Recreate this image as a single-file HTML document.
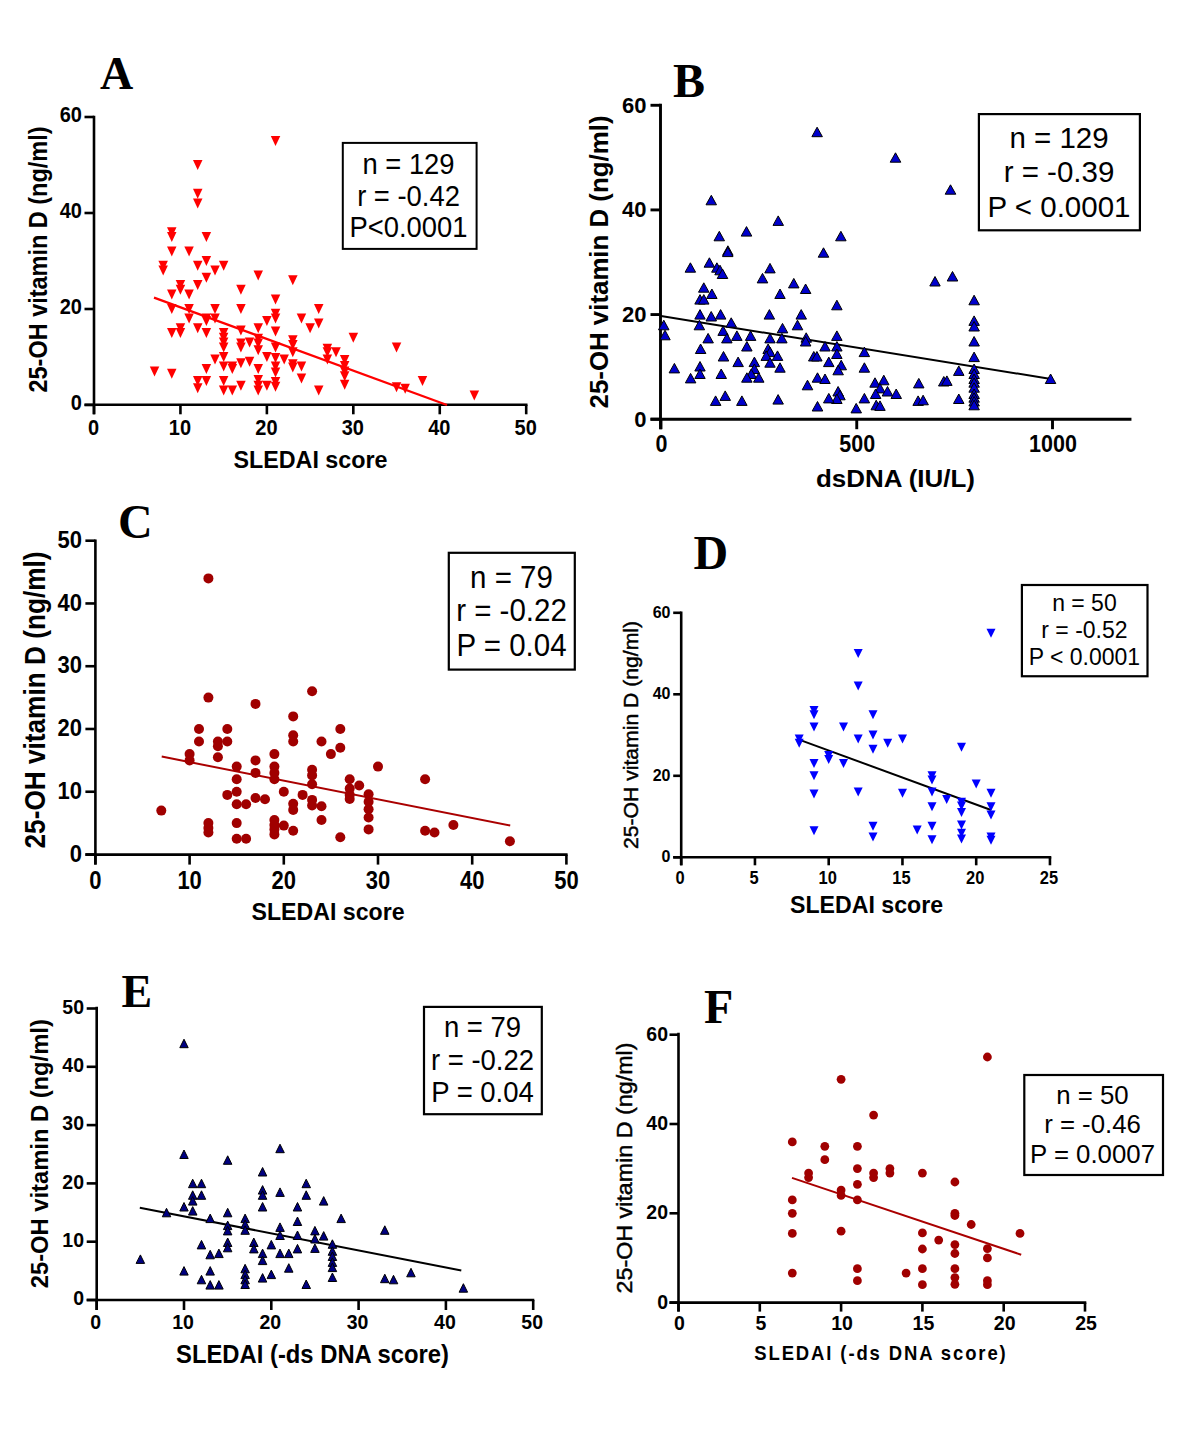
<!DOCTYPE html>
<html><head><meta charset="utf-8"><style>
html,body{margin:0;padding:0;background:#fff;width:1200px;height:1447px;overflow:hidden}
svg{display:block}
</style></head><body>
<svg width="1200" height="1447" viewBox="0 0 1200 1447">
<rect width="1200" height="1447" fill="#fff"/>
<line x1="94" y1="115.7" x2="94" y2="414.3" stroke="#000" stroke-width="2.6"/>
<line x1="84.5" y1="404.8" x2="527.5" y2="404.8" stroke="#000" stroke-width="2.6"/>
<line x1="84.5" y1="405.0" x2="94" y2="405.0" stroke="#000" stroke-width="2.6"/>
<line x1="84.5" y1="309.0" x2="94" y2="309.0" stroke="#000" stroke-width="2.6"/>
<line x1="84.5" y1="213.0" x2="94" y2="213.0" stroke="#000" stroke-width="2.6"/>
<line x1="84.5" y1="117.0" x2="94" y2="117.0" stroke="#000" stroke-width="2.6"/>
<line x1="94.0" y1="404.8" x2="94.0" y2="414.3" stroke="#000" stroke-width="2.6"/>
<line x1="180.44" y1="404.8" x2="180.44" y2="414.3" stroke="#000" stroke-width="2.6"/>
<line x1="266.88" y1="404.8" x2="266.88" y2="414.3" stroke="#000" stroke-width="2.6"/>
<line x1="353.32" y1="404.8" x2="353.32" y2="414.3" stroke="#000" stroke-width="2.6"/>
<line x1="439.76" y1="404.8" x2="439.76" y2="414.3" stroke="#000" stroke-width="2.6"/>
<line x1="526.2" y1="404.8" x2="526.2" y2="414.3" stroke="#000" stroke-width="2.6"/>
<text transform="translate(82,410.3) scale(1,1.06)" text-anchor="end" font-family='"Liberation Sans", sans-serif' font-size="20" font-weight="bold" fill="#000">0</text>
<text transform="translate(82,314.3) scale(1,1.06)" text-anchor="end" font-family='"Liberation Sans", sans-serif' font-size="20" font-weight="bold" fill="#000">20</text>
<text transform="translate(82,218.3) scale(1,1.06)" text-anchor="end" font-family='"Liberation Sans", sans-serif' font-size="20" font-weight="bold" fill="#000">40</text>
<text transform="translate(82,122.3) scale(1,1.06)" text-anchor="end" font-family='"Liberation Sans", sans-serif' font-size="20" font-weight="bold" fill="#000">60</text>
<text transform="translate(93.5,434.6) scale(1,1.1)" text-anchor="middle" font-family='"Liberation Sans", sans-serif' font-size="20" font-weight="bold" fill="#000">0</text>
<text transform="translate(179.9,434.6) scale(1,1.1)" text-anchor="middle" font-family='"Liberation Sans", sans-serif' font-size="20" font-weight="bold" fill="#000">10</text>
<text transform="translate(266.4,434.6) scale(1,1.1)" text-anchor="middle" font-family='"Liberation Sans", sans-serif' font-size="20" font-weight="bold" fill="#000">20</text>
<text transform="translate(352.8,434.6) scale(1,1.1)" text-anchor="middle" font-family='"Liberation Sans", sans-serif' font-size="20" font-weight="bold" fill="#000">30</text>
<text transform="translate(439.3,434.6) scale(1,1.1)" text-anchor="middle" font-family='"Liberation Sans", sans-serif' font-size="20" font-weight="bold" fill="#000">40</text>
<text transform="translate(525.7,434.6) scale(1,1.1)" text-anchor="middle" font-family='"Liberation Sans", sans-serif' font-size="20" font-weight="bold" fill="#000">50</text>
<text transform="translate(310.5,467.7) scale(1,1.045)" text-anchor="middle" font-family='"Liberation Sans", sans-serif' font-size="22.5" font-weight="bold" fill="#000" textLength="154" lengthAdjust="spacingAndGlyphs">SLEDAI score</text>
<text transform="translate(46.5,259.5) rotate(-90) scale(1,1.17)" text-anchor="middle" font-family='"Liberation Sans", sans-serif' font-size="22.5" font-weight="bold" fill="#000" textLength="266" lengthAdjust="spacingAndGlyphs">25-OH vitamin D (ng/ml)</text>
<text transform="translate(100,88.5)" text-anchor="start" font-family='"Liberation Serif", serif' font-size="46" font-weight="bold" fill="#000">A</text>
<rect x="342.8" y="142.9" width="133.8" height="106.0" fill="none" stroke="#000" stroke-width="2"/>
<text transform="translate(408.5,173.5) scale(1,1.09)" text-anchor="middle" font-family='"Liberation Sans", sans-serif' font-size="27.4" font-weight="normal" fill="#000">n = 129</text>
<text transform="translate(408.5,205.8) scale(1,1.09)" text-anchor="middle" font-family='"Liberation Sans", sans-serif' font-size="27.4" font-weight="normal" fill="#000">r = -0.42</text>
<text transform="translate(408.5,237) scale(1,1.09)" text-anchor="middle" font-family='"Liberation Sans", sans-serif' font-size="27.4" font-weight="normal" fill="#000">P&lt;0.0001</text>
<line x1="154" y1="297.6" x2="447" y2="405" stroke="#ff0000" stroke-width="2.2"/>
<path d="M149.8,366.4H159.3L154.5,376.4Z" fill="#ff0000" stroke="none" stroke-width="0"/>
<path d="M158.4,260.8H167.9L163.2,270.8Z" fill="#ff0000" stroke="none" stroke-width="0"/>
<path d="M158.4,265.6H167.9L163.2,275.6Z" fill="#ff0000" stroke="none" stroke-width="0"/>
<path d="M167.0,227.2H176.5L171.8,237.2Z" fill="#ff0000" stroke="none" stroke-width="0"/>
<path d="M167.0,232.0H176.5L171.8,242.0Z" fill="#ff0000" stroke="none" stroke-width="0"/>
<path d="M167.0,246.4H176.5L171.8,256.4Z" fill="#ff0000" stroke="none" stroke-width="0"/>
<path d="M167.0,289.6H176.5L171.8,299.6Z" fill="#ff0000" stroke="none" stroke-width="0"/>
<path d="M167.0,304.0H176.5L171.8,314.0Z" fill="#ff0000" stroke="none" stroke-width="0"/>
<path d="M167.0,328.0H176.5L171.8,338.0Z" fill="#ff0000" stroke="none" stroke-width="0"/>
<path d="M167.0,368.8H176.5L171.8,378.8Z" fill="#ff0000" stroke="none" stroke-width="0"/>
<path d="M175.7,280.0H185.2L180.4,290.0Z" fill="#ff0000" stroke="none" stroke-width="0"/>
<path d="M175.7,284.8H185.2L180.4,294.8Z" fill="#ff0000" stroke="none" stroke-width="0"/>
<path d="M175.7,323.2H185.2L180.4,333.2Z" fill="#ff0000" stroke="none" stroke-width="0"/>
<path d="M175.7,328.0H185.2L180.4,338.0Z" fill="#ff0000" stroke="none" stroke-width="0"/>
<path d="M184.3,246.4H193.8L189.1,256.4Z" fill="#ff0000" stroke="none" stroke-width="0"/>
<path d="M184.3,289.6H193.8L189.1,299.6Z" fill="#ff0000" stroke="none" stroke-width="0"/>
<path d="M184.3,304.0H193.8L189.1,314.0Z" fill="#ff0000" stroke="none" stroke-width="0"/>
<path d="M184.3,313.6H193.8L189.1,323.6Z" fill="#ff0000" stroke="none" stroke-width="0"/>
<path d="M193.0,160.0H202.5L197.7,170.0Z" fill="#ff0000" stroke="none" stroke-width="0"/>
<path d="M193.0,188.8H202.5L197.7,198.8Z" fill="#ff0000" stroke="none" stroke-width="0"/>
<path d="M193.0,198.4H202.5L197.7,208.4Z" fill="#ff0000" stroke="none" stroke-width="0"/>
<path d="M193.0,260.8H202.5L197.7,270.8Z" fill="#ff0000" stroke="none" stroke-width="0"/>
<path d="M193.0,280.0H202.5L197.7,290.0Z" fill="#ff0000" stroke="none" stroke-width="0"/>
<path d="M193.0,323.2H202.5L197.7,333.2Z" fill="#ff0000" stroke="none" stroke-width="0"/>
<path d="M193.0,376.0H202.5L197.7,386.0Z" fill="#ff0000" stroke="none" stroke-width="0"/>
<path d="M193.0,383.2H202.5L197.7,393.2Z" fill="#ff0000" stroke="none" stroke-width="0"/>
<path d="M201.6,232.0H211.1L206.4,242.0Z" fill="#ff0000" stroke="none" stroke-width="0"/>
<path d="M201.6,256.0H211.1L206.4,266.0Z" fill="#ff0000" stroke="none" stroke-width="0"/>
<path d="M201.6,272.8H211.1L206.4,282.8Z" fill="#ff0000" stroke="none" stroke-width="0"/>
<path d="M201.6,313.6H211.1L206.4,323.6Z" fill="#ff0000" stroke="none" stroke-width="0"/>
<path d="M201.6,316.0H211.1L206.4,326.0Z" fill="#ff0000" stroke="none" stroke-width="0"/>
<path d="M201.6,328.0H211.1L206.4,338.0Z" fill="#ff0000" stroke="none" stroke-width="0"/>
<path d="M201.6,364.0H211.1L206.4,374.0Z" fill="#ff0000" stroke="none" stroke-width="0"/>
<path d="M201.6,376.0H211.1L206.4,386.0Z" fill="#ff0000" stroke="none" stroke-width="0"/>
<path d="M210.3,265.6H219.8L215.0,275.6Z" fill="#ff0000" stroke="none" stroke-width="0"/>
<path d="M210.3,304.0H219.8L215.0,314.0Z" fill="#ff0000" stroke="none" stroke-width="0"/>
<path d="M210.3,313.6H219.8L215.0,323.6Z" fill="#ff0000" stroke="none" stroke-width="0"/>
<path d="M210.3,354.4H219.8L215.0,364.4Z" fill="#ff0000" stroke="none" stroke-width="0"/>
<path d="M218.9,260.8H228.4L223.7,270.8Z" fill="#ff0000" stroke="none" stroke-width="0"/>
<path d="M218.9,328.0H228.4L223.7,338.0Z" fill="#ff0000" stroke="none" stroke-width="0"/>
<path d="M218.9,332.8H228.4L223.7,342.8Z" fill="#ff0000" stroke="none" stroke-width="0"/>
<path d="M218.9,337.6H228.4L223.7,347.6Z" fill="#ff0000" stroke="none" stroke-width="0"/>
<path d="M218.9,342.4H228.4L223.7,352.4Z" fill="#ff0000" stroke="none" stroke-width="0"/>
<path d="M218.9,352.0H228.4L223.7,362.0Z" fill="#ff0000" stroke="none" stroke-width="0"/>
<path d="M218.9,361.6H228.4L223.7,371.6Z" fill="#ff0000" stroke="none" stroke-width="0"/>
<path d="M218.9,376.0H228.4L223.7,386.0Z" fill="#ff0000" stroke="none" stroke-width="0"/>
<path d="M218.9,385.6H228.4L223.7,395.6Z" fill="#ff0000" stroke="none" stroke-width="0"/>
<path d="M227.6,361.6H237.1L232.3,371.6Z" fill="#ff0000" stroke="none" stroke-width="0"/>
<path d="M227.6,364.0H237.1L232.3,374.0Z" fill="#ff0000" stroke="none" stroke-width="0"/>
<path d="M227.6,385.6H237.1L232.3,395.6Z" fill="#ff0000" stroke="none" stroke-width="0"/>
<path d="M236.2,284.8H245.7L240.9,294.8Z" fill="#ff0000" stroke="none" stroke-width="0"/>
<path d="M236.2,304.0H245.7L240.9,314.0Z" fill="#ff0000" stroke="none" stroke-width="0"/>
<path d="M236.2,325.6H245.7L240.9,335.6Z" fill="#ff0000" stroke="none" stroke-width="0"/>
<path d="M236.2,338.6H245.7L240.9,348.6Z" fill="#ff0000" stroke="none" stroke-width="0"/>
<path d="M236.2,342.4H245.7L240.9,352.4Z" fill="#ff0000" stroke="none" stroke-width="0"/>
<path d="M236.2,358.2H245.7L240.9,368.2Z" fill="#ff0000" stroke="none" stroke-width="0"/>
<path d="M236.2,380.8H245.7L240.9,390.8Z" fill="#ff0000" stroke="none" stroke-width="0"/>
<path d="M244.8,337.6H254.3L249.6,347.6Z" fill="#ff0000" stroke="none" stroke-width="0"/>
<path d="M244.8,356.8H254.3L249.6,366.8Z" fill="#ff0000" stroke="none" stroke-width="0"/>
<path d="M253.5,270.4H263.0L258.2,280.4Z" fill="#ff0000" stroke="none" stroke-width="0"/>
<path d="M253.5,323.2H263.0L258.2,333.2Z" fill="#ff0000" stroke="none" stroke-width="0"/>
<path d="M253.5,333.8H263.0L258.2,343.8Z" fill="#ff0000" stroke="none" stroke-width="0"/>
<path d="M253.5,338.6H263.0L258.2,348.6Z" fill="#ff0000" stroke="none" stroke-width="0"/>
<path d="M253.5,345.3H263.0L258.2,355.3Z" fill="#ff0000" stroke="none" stroke-width="0"/>
<path d="M253.5,364.0H263.0L258.2,374.0Z" fill="#ff0000" stroke="none" stroke-width="0"/>
<path d="M253.5,375.0H263.0L258.2,385.0Z" fill="#ff0000" stroke="none" stroke-width="0"/>
<path d="M253.5,380.8H263.0L258.2,390.8Z" fill="#ff0000" stroke="none" stroke-width="0"/>
<path d="M253.5,385.6H263.0L258.2,395.6Z" fill="#ff0000" stroke="none" stroke-width="0"/>
<path d="M262.1,316.0H271.6L266.9,326.0Z" fill="#ff0000" stroke="none" stroke-width="0"/>
<path d="M262.1,352.0H271.6L266.9,362.0Z" fill="#ff0000" stroke="none" stroke-width="0"/>
<path d="M262.1,380.8H271.6L266.9,390.8Z" fill="#ff0000" stroke="none" stroke-width="0"/>
<path d="M270.8,136.0H280.3L275.5,146.0Z" fill="#ff0000" stroke="none" stroke-width="0"/>
<path d="M270.8,294.4H280.3L275.5,304.4Z" fill="#ff0000" stroke="none" stroke-width="0"/>
<path d="M270.8,308.8H280.3L275.5,318.8Z" fill="#ff0000" stroke="none" stroke-width="0"/>
<path d="M270.8,313.6H280.3L275.5,323.6Z" fill="#ff0000" stroke="none" stroke-width="0"/>
<path d="M270.8,326.6H280.3L275.5,336.6Z" fill="#ff0000" stroke="none" stroke-width="0"/>
<path d="M270.8,342.4H280.3L275.5,352.4Z" fill="#ff0000" stroke="none" stroke-width="0"/>
<path d="M270.8,353.0H280.3L275.5,363.0Z" fill="#ff0000" stroke="none" stroke-width="0"/>
<path d="M270.8,361.6H280.3L275.5,371.6Z" fill="#ff0000" stroke="none" stroke-width="0"/>
<path d="M270.8,367.4H280.3L275.5,377.4Z" fill="#ff0000" stroke="none" stroke-width="0"/>
<path d="M270.8,377.0H280.3L275.5,387.0Z" fill="#ff0000" stroke="none" stroke-width="0"/>
<path d="M270.8,381.8H280.3L275.5,391.8Z" fill="#ff0000" stroke="none" stroke-width="0"/>
<path d="M279.4,354.4H288.9L284.2,364.4Z" fill="#ff0000" stroke="none" stroke-width="0"/>
<path d="M288.1,275.2H297.6L292.8,285.2Z" fill="#ff0000" stroke="none" stroke-width="0"/>
<path d="M288.1,335.2H297.6L292.8,345.2Z" fill="#ff0000" stroke="none" stroke-width="0"/>
<path d="M288.1,340.0H297.6L292.8,350.0Z" fill="#ff0000" stroke="none" stroke-width="0"/>
<path d="M288.1,347.2H297.6L292.8,357.2Z" fill="#ff0000" stroke="none" stroke-width="0"/>
<path d="M288.1,359.2H297.6L292.8,369.2Z" fill="#ff0000" stroke="none" stroke-width="0"/>
<path d="M288.1,362.6H297.6L292.8,372.6Z" fill="#ff0000" stroke="none" stroke-width="0"/>
<path d="M296.7,313.6H306.2L301.5,323.6Z" fill="#ff0000" stroke="none" stroke-width="0"/>
<path d="M296.7,361.6H306.2L301.5,371.6Z" fill="#ff0000" stroke="none" stroke-width="0"/>
<path d="M296.7,373.6H306.2L301.5,383.6Z" fill="#ff0000" stroke="none" stroke-width="0"/>
<path d="M305.4,323.2H314.9L310.1,333.2Z" fill="#ff0000" stroke="none" stroke-width="0"/>
<path d="M314.0,304.0H323.5L318.7,314.0Z" fill="#ff0000" stroke="none" stroke-width="0"/>
<path d="M314.0,318.4H323.5L318.7,328.4Z" fill="#ff0000" stroke="none" stroke-width="0"/>
<path d="M314.0,385.6H323.5L318.7,395.6Z" fill="#ff0000" stroke="none" stroke-width="0"/>
<path d="M322.6,343.8H332.1L327.4,353.8Z" fill="#ff0000" stroke="none" stroke-width="0"/>
<path d="M322.6,347.2H332.1L327.4,357.2Z" fill="#ff0000" stroke="none" stroke-width="0"/>
<path d="M322.6,354.4H332.1L327.4,364.4Z" fill="#ff0000" stroke="none" stroke-width="0"/>
<path d="M331.3,347.2H340.8L336.0,357.2Z" fill="#ff0000" stroke="none" stroke-width="0"/>
<path d="M339.9,354.9H349.4L344.7,364.9Z" fill="#ff0000" stroke="none" stroke-width="0"/>
<path d="M339.9,361.1H349.4L344.7,371.1Z" fill="#ff0000" stroke="none" stroke-width="0"/>
<path d="M339.9,366.4H349.4L344.7,376.4Z" fill="#ff0000" stroke="none" stroke-width="0"/>
<path d="M339.9,371.2H349.4L344.7,381.2Z" fill="#ff0000" stroke="none" stroke-width="0"/>
<path d="M339.9,379.8H349.4L344.7,389.8Z" fill="#ff0000" stroke="none" stroke-width="0"/>
<path d="M348.6,332.8H358.1L353.3,342.8Z" fill="#ff0000" stroke="none" stroke-width="0"/>
<path d="M391.8,342.4H401.3L396.5,352.4Z" fill="#ff0000" stroke="none" stroke-width="0"/>
<path d="M391.8,382.2H401.3L396.5,392.2Z" fill="#ff0000" stroke="none" stroke-width="0"/>
<path d="M400.4,383.7H409.9L405.2,393.7Z" fill="#ff0000" stroke="none" stroke-width="0"/>
<path d="M417.7,376.0H427.2L422.5,386.0Z" fill="#ff0000" stroke="none" stroke-width="0"/>
<path d="M469.6,390.4H479.1L474.3,400.4Z" fill="#ff0000" stroke="none" stroke-width="0"/>
<line x1="660.5" y1="103.85" x2="660.5" y2="429.2" stroke="#000" stroke-width="2.9"/>
<line x1="650.5" y1="419.2" x2="1131.45" y2="419.2" stroke="#000" stroke-width="2.9"/>
<line x1="650.5" y1="419.2" x2="660.5" y2="419.2" stroke="#000" stroke-width="2.9"/>
<line x1="650.5" y1="314.56" x2="660.5" y2="314.56" stroke="#000" stroke-width="2.9"/>
<line x1="650.5" y1="209.92" x2="660.5" y2="209.92" stroke="#000" stroke-width="2.9"/>
<line x1="650.5" y1="105.27999999999997" x2="660.5" y2="105.27999999999997" stroke="#000" stroke-width="2.9"/>
<line x1="661.0" y1="419.2" x2="661.0" y2="429.2" stroke="#000" stroke-width="2.9"/>
<line x1="856.75" y1="419.2" x2="856.75" y2="429.2" stroke="#000" stroke-width="2.9"/>
<line x1="1052.5" y1="419.2" x2="1052.5" y2="429.2" stroke="#000" stroke-width="2.9"/>
<text transform="translate(646.5,426.5)" text-anchor="end" font-family='"Liberation Sans", sans-serif' font-size="22" font-weight="bold" fill="#000">0</text>
<text transform="translate(646.5,321.9)" text-anchor="end" font-family='"Liberation Sans", sans-serif' font-size="22" font-weight="bold" fill="#000">20</text>
<text transform="translate(646.5,217.2)" text-anchor="end" font-family='"Liberation Sans", sans-serif' font-size="22" font-weight="bold" fill="#000">40</text>
<text transform="translate(646.5,112.6)" text-anchor="end" font-family='"Liberation Sans", sans-serif' font-size="22" font-weight="bold" fill="#000">60</text>
<text transform="translate(661.5,452.3) scale(1,1.08)" text-anchor="middle" font-family='"Liberation Sans", sans-serif' font-size="21.5" font-weight="bold" fill="#000">0</text>
<text transform="translate(857.2,452.3) scale(1,1.08)" text-anchor="middle" font-family='"Liberation Sans", sans-serif' font-size="21.5" font-weight="bold" fill="#000">500</text>
<text transform="translate(1053.0,452.3) scale(1,1.08)" text-anchor="middle" font-family='"Liberation Sans", sans-serif' font-size="21.5" font-weight="bold" fill="#000">1000</text>
<text transform="translate(895.5,487)" text-anchor="middle" font-family='"Liberation Sans", sans-serif' font-size="23" font-weight="bold" fill="#000" textLength="159" lengthAdjust="spacingAndGlyphs">dsDNA (IU/L)</text>
<text transform="translate(607.5,262) rotate(-90) scale(1,1.1)" text-anchor="middle" font-family='"Liberation Sans", sans-serif' font-size="24" font-weight="bold" fill="#000" textLength="293" lengthAdjust="spacingAndGlyphs">25-OH vitamin D (ng/ml)</text>
<text transform="translate(673,96.6)" text-anchor="start" font-family='"Liberation Serif", serif' font-size="48" font-weight="bold" fill="#000">B</text>
<rect x="978.9" y="114.1" width="161.0000000000001" height="116.20000000000002" fill="none" stroke="#000" stroke-width="2.2"/>
<text transform="translate(1059,148) scale(1,1.03)" text-anchor="middle" font-family='"Liberation Sans", sans-serif' font-size="29.5" font-weight="normal" fill="#000">n = 129</text>
<text transform="translate(1059,182) scale(1,1.03)" text-anchor="middle" font-family='"Liberation Sans", sans-serif' font-size="29.5" font-weight="normal" fill="#000">r = -0.39</text>
<text transform="translate(1059,217) scale(1,1.03)" text-anchor="middle" font-family='"Liberation Sans", sans-serif' font-size="29.5" font-weight="normal" fill="#000">P &lt; 0.0001</text>
<line x1="661" y1="316" x2="1051" y2="379" stroke="#000" stroke-width="2"/>
<path d="M722.6,255.3H733.1L727.9,245.8Z" fill="#0000cc" stroke="#000" stroke-width="1"/>
<path d="M685.1,272.2H695.6L690.4,262.8Z" fill="#0000cc" stroke="#000" stroke-width="1"/>
<path d="M704.1,267.2H714.6L709.4,257.8Z" fill="#0000cc" stroke="#000" stroke-width="1"/>
<path d="M711.6,272.2H722.1L716.9,262.8Z" fill="#0000cc" stroke="#000" stroke-width="1"/>
<path d="M714.8,274.8H725.2L720.0,265.2Z" fill="#0000cc" stroke="#000" stroke-width="1"/>
<path d="M717.2,278.5H727.8L722.5,269.0Z" fill="#0000cc" stroke="#000" stroke-width="1"/>
<path d="M764.8,272.9H775.2L770.0,263.4Z" fill="#0000cc" stroke="#000" stroke-width="1"/>
<path d="M757.2,282.9H767.8L762.5,273.4Z" fill="#0000cc" stroke="#000" stroke-width="1"/>
<path d="M788.5,287.9H799.0L793.8,278.4Z" fill="#0000cc" stroke="#000" stroke-width="1"/>
<path d="M774.8,298.5H785.2L780.0,289.0Z" fill="#0000cc" stroke="#000" stroke-width="1"/>
<path d="M698.5,292.2H709.0L703.8,282.8Z" fill="#0000cc" stroke="#000" stroke-width="1"/>
<path d="M706.6,298.5H717.1L711.9,289.0Z" fill="#0000cc" stroke="#000" stroke-width="1"/>
<path d="M694.8,304.1H705.2L700.0,294.6Z" fill="#0000cc" stroke="#000" stroke-width="1"/>
<path d="M698.5,304.1H709.0L703.8,294.6Z" fill="#0000cc" stroke="#000" stroke-width="1"/>
<path d="M694.8,319.1H705.2L700.0,309.6Z" fill="#0000cc" stroke="#000" stroke-width="1"/>
<path d="M706.0,321.0H716.5L711.2,311.5Z" fill="#0000cc" stroke="#000" stroke-width="1"/>
<path d="M715.4,319.1H725.9L720.6,309.6Z" fill="#0000cc" stroke="#000" stroke-width="1"/>
<path d="M726.0,327.2H736.5L731.2,317.8Z" fill="#0000cc" stroke="#000" stroke-width="1"/>
<path d="M764.1,319.1H774.6L769.4,309.6Z" fill="#0000cc" stroke="#000" stroke-width="1"/>
<path d="M796.0,319.1H806.5L801.2,309.6Z" fill="#0000cc" stroke="#000" stroke-width="1"/>
<path d="M658.5,329.8H669.0L663.8,320.2Z" fill="#0000cc" stroke="#000" stroke-width="1"/>
<path d="M659.8,339.8H670.2L665.0,330.2Z" fill="#0000cc" stroke="#000" stroke-width="1"/>
<path d="M694.1,329.8H704.6L699.4,320.2Z" fill="#0000cc" stroke="#000" stroke-width="1"/>
<path d="M717.9,335.4H728.4L723.1,325.9Z" fill="#0000cc" stroke="#000" stroke-width="1"/>
<path d="M721.6,342.9H732.1L726.9,333.4Z" fill="#0000cc" stroke="#000" stroke-width="1"/>
<path d="M702.9,342.9H713.4L708.1,333.4Z" fill="#0000cc" stroke="#000" stroke-width="1"/>
<path d="M731.6,340.4H742.1L736.9,330.9Z" fill="#0000cc" stroke="#000" stroke-width="1"/>
<path d="M745.4,340.4H755.9L750.6,330.9Z" fill="#0000cc" stroke="#000" stroke-width="1"/>
<path d="M777.2,332.9H787.8L782.5,323.4Z" fill="#0000cc" stroke="#000" stroke-width="1"/>
<path d="M792.2,329.8H802.8L797.5,320.2Z" fill="#0000cc" stroke="#000" stroke-width="1"/>
<path d="M764.8,342.9H775.2L770.0,333.4Z" fill="#0000cc" stroke="#000" stroke-width="1"/>
<path d="M776.6,342.9H787.1L781.9,333.4Z" fill="#0000cc" stroke="#000" stroke-width="1"/>
<path d="M741.6,351.0H752.1L746.9,341.5Z" fill="#0000cc" stroke="#000" stroke-width="1"/>
<path d="M695.4,353.5H705.9L700.6,344.0Z" fill="#0000cc" stroke="#000" stroke-width="1"/>
<path d="M762.9,353.5H773.4L768.1,344.0Z" fill="#0000cc" stroke="#000" stroke-width="1"/>
<path d="M764.8,356.6H775.2L770.0,347.1Z" fill="#0000cc" stroke="#000" stroke-width="1"/>
<path d="M761.0,360.4H771.5L766.2,350.9Z" fill="#0000cc" stroke="#000" stroke-width="1"/>
<path d="M772.2,360.4H782.8L777.5,350.9Z" fill="#0000cc" stroke="#000" stroke-width="1"/>
<path d="M764.8,367.2H775.2L770.0,357.8Z" fill="#0000cc" stroke="#000" stroke-width="1"/>
<path d="M774.8,372.2H785.2L780.0,362.8Z" fill="#0000cc" stroke="#000" stroke-width="1"/>
<path d="M718.2,361.0H728.8L723.5,351.5Z" fill="#0000cc" stroke="#000" stroke-width="1"/>
<path d="M732.9,366.6H743.4L738.1,357.1Z" fill="#0000cc" stroke="#000" stroke-width="1"/>
<path d="M749.1,366.6H759.6L754.4,357.1Z" fill="#0000cc" stroke="#000" stroke-width="1"/>
<path d="M749.1,373.5H759.6L754.4,364.0Z" fill="#0000cc" stroke="#000" stroke-width="1"/>
<path d="M746.0,378.5H756.5L751.2,369.0Z" fill="#0000cc" stroke="#000" stroke-width="1"/>
<path d="M741.6,382.2H752.1L746.9,372.8Z" fill="#0000cc" stroke="#000" stroke-width="1"/>
<path d="M753.5,382.2H764.0L758.8,372.8Z" fill="#0000cc" stroke="#000" stroke-width="1"/>
<path d="M669.1,372.9H679.6L674.4,363.4Z" fill="#0000cc" stroke="#000" stroke-width="1"/>
<path d="M694.8,371.0H705.2L700.0,361.5Z" fill="#0000cc" stroke="#000" stroke-width="1"/>
<path d="M694.8,378.5H705.2L700.0,369.0Z" fill="#0000cc" stroke="#000" stroke-width="1"/>
<path d="M685.4,382.9H695.9L690.6,373.4Z" fill="#0000cc" stroke="#000" stroke-width="1"/>
<path d="M716.0,378.5H726.5L721.2,369.0Z" fill="#0000cc" stroke="#000" stroke-width="1"/>
<path d="M710.4,405.4H720.9L715.6,395.9Z" fill="#0000cc" stroke="#000" stroke-width="1"/>
<path d="M720.0,400.4H730.5L725.2,390.9Z" fill="#0000cc" stroke="#000" stroke-width="1"/>
<path d="M736.6,405.4H747.1L741.9,395.9Z" fill="#0000cc" stroke="#000" stroke-width="1"/>
<path d="M772.9,404.1H783.4L778.1,394.6Z" fill="#0000cc" stroke="#000" stroke-width="1"/>
<path d="M818.2,257.2H828.8L823.5,247.8Z" fill="#0000cc" stroke="#000" stroke-width="1"/>
<path d="M800.4,293.5H810.9L805.6,284.0Z" fill="#0000cc" stroke="#000" stroke-width="1"/>
<path d="M831.6,309.8H842.1L836.9,300.2Z" fill="#0000cc" stroke="#000" stroke-width="1"/>
<path d="M929.8,286.0H940.2L935.0,276.5Z" fill="#0000cc" stroke="#000" stroke-width="1"/>
<path d="M801.0,342.2H811.5L806.2,332.8Z" fill="#0000cc" stroke="#000" stroke-width="1"/>
<path d="M800.4,346.0H810.9L805.6,336.5Z" fill="#0000cc" stroke="#000" stroke-width="1"/>
<path d="M831.6,340.4H842.1L836.9,330.9Z" fill="#0000cc" stroke="#000" stroke-width="1"/>
<path d="M819.8,351.0H830.2L825.0,341.5Z" fill="#0000cc" stroke="#000" stroke-width="1"/>
<path d="M831.6,351.0H842.1L836.9,341.5Z" fill="#0000cc" stroke="#000" stroke-width="1"/>
<path d="M831.6,358.5H842.1L836.9,349.0Z" fill="#0000cc" stroke="#000" stroke-width="1"/>
<path d="M808.5,361.0H819.0L813.8,351.5Z" fill="#0000cc" stroke="#000" stroke-width="1"/>
<path d="M811.6,361.0H822.1L816.9,351.5Z" fill="#0000cc" stroke="#000" stroke-width="1"/>
<path d="M823.5,366.6H834.0L828.8,357.1Z" fill="#0000cc" stroke="#000" stroke-width="1"/>
<path d="M836.0,369.8H846.5L841.2,360.2Z" fill="#0000cc" stroke="#000" stroke-width="1"/>
<path d="M832.9,374.8H843.4L838.1,365.2Z" fill="#0000cc" stroke="#000" stroke-width="1"/>
<path d="M859.1,356.6H869.6L864.4,347.1Z" fill="#0000cc" stroke="#000" stroke-width="1"/>
<path d="M859.1,372.2H869.6L864.4,362.8Z" fill="#0000cc" stroke="#000" stroke-width="1"/>
<path d="M812.2,382.2H822.8L817.5,372.8Z" fill="#0000cc" stroke="#000" stroke-width="1"/>
<path d="M819.8,383.5H830.2L825.0,374.0Z" fill="#0000cc" stroke="#000" stroke-width="1"/>
<path d="M802.2,389.8H812.8L807.5,380.2Z" fill="#0000cc" stroke="#000" stroke-width="1"/>
<path d="M832.9,396.0H843.4L838.1,386.5Z" fill="#0000cc" stroke="#000" stroke-width="1"/>
<path d="M834.8,399.8H845.2L840.0,390.2Z" fill="#0000cc" stroke="#000" stroke-width="1"/>
<path d="M831.6,403.5H842.1L836.9,394.0Z" fill="#0000cc" stroke="#000" stroke-width="1"/>
<path d="M823.5,402.9H834.0L828.8,393.4Z" fill="#0000cc" stroke="#000" stroke-width="1"/>
<path d="M812.2,411.0H822.8L817.5,401.5Z" fill="#0000cc" stroke="#000" stroke-width="1"/>
<path d="M851.0,412.9H861.5L856.2,403.4Z" fill="#0000cc" stroke="#000" stroke-width="1"/>
<path d="M859.1,402.9H869.6L864.4,393.4Z" fill="#0000cc" stroke="#000" stroke-width="1"/>
<path d="M869.8,387.2H880.2L875.0,377.8Z" fill="#0000cc" stroke="#000" stroke-width="1"/>
<path d="M878.5,384.8H889.0L883.8,375.2Z" fill="#0000cc" stroke="#000" stroke-width="1"/>
<path d="M874.8,392.9H885.2L880.0,383.4Z" fill="#0000cc" stroke="#000" stroke-width="1"/>
<path d="M882.2,396.0H892.8L887.5,386.5Z" fill="#0000cc" stroke="#000" stroke-width="1"/>
<path d="M870.4,398.5H880.9L875.6,389.0Z" fill="#0000cc" stroke="#000" stroke-width="1"/>
<path d="M891.0,398.5H901.5L896.2,389.0Z" fill="#0000cc" stroke="#000" stroke-width="1"/>
<path d="M871.0,409.8H881.5L876.2,400.2Z" fill="#0000cc" stroke="#000" stroke-width="1"/>
<path d="M874.8,410.4H885.2L880.0,400.9Z" fill="#0000cc" stroke="#000" stroke-width="1"/>
<path d="M913.5,387.9H924.0L918.8,378.4Z" fill="#0000cc" stroke="#000" stroke-width="1"/>
<path d="M912.9,405.4H923.4L918.1,395.9Z" fill="#0000cc" stroke="#000" stroke-width="1"/>
<path d="M917.9,404.8H928.4L923.1,395.2Z" fill="#0000cc" stroke="#000" stroke-width="1"/>
<path d="M938.5,386.0H949.0L943.8,376.5Z" fill="#0000cc" stroke="#000" stroke-width="1"/>
<path d="M947.2,281.0H957.8L952.5,271.5Z" fill="#0000cc" stroke="#000" stroke-width="1"/>
<path d="M968.9,304.8H979.4L974.1,295.2Z" fill="#0000cc" stroke="#000" stroke-width="1"/>
<path d="M968.9,325.4H979.4L974.1,315.9Z" fill="#0000cc" stroke="#000" stroke-width="1"/>
<path d="M968.9,331.0H979.4L974.1,321.5Z" fill="#0000cc" stroke="#000" stroke-width="1"/>
<path d="M968.9,346.0H979.4L974.1,336.5Z" fill="#0000cc" stroke="#000" stroke-width="1"/>
<path d="M968.9,361.6H979.4L974.1,352.1Z" fill="#0000cc" stroke="#000" stroke-width="1"/>
<path d="M968.9,373.5H979.4L974.1,364.0Z" fill="#0000cc" stroke="#000" stroke-width="1"/>
<path d="M968.9,378.5H979.4L974.1,369.0Z" fill="#0000cc" stroke="#000" stroke-width="1"/>
<path d="M968.9,383.5H979.4L974.1,374.0Z" fill="#0000cc" stroke="#000" stroke-width="1"/>
<path d="M968.9,387.2H979.4L974.1,377.8Z" fill="#0000cc" stroke="#000" stroke-width="1"/>
<path d="M968.9,392.2H979.4L974.1,382.8Z" fill="#0000cc" stroke="#000" stroke-width="1"/>
<path d="M968.9,398.5H979.4L974.1,389.0Z" fill="#0000cc" stroke="#000" stroke-width="1"/>
<path d="M968.9,402.2H979.4L974.1,392.8Z" fill="#0000cc" stroke="#000" stroke-width="1"/>
<path d="M968.9,406.0H979.4L974.1,396.5Z" fill="#0000cc" stroke="#000" stroke-width="1"/>
<path d="M968.9,409.8H979.4L974.1,400.2Z" fill="#0000cc" stroke="#000" stroke-width="1"/>
<path d="M953.5,375.4H964.0L958.8,365.9Z" fill="#0000cc" stroke="#000" stroke-width="1"/>
<path d="M941.6,385.4H952.1L946.9,375.9Z" fill="#0000cc" stroke="#000" stroke-width="1"/>
<path d="M953.5,403.5H964.0L958.8,394.0Z" fill="#0000cc" stroke="#000" stroke-width="1"/>
<path d="M1045.3,383.5H1055.8L1050.6,374.0Z" fill="#0000cc" stroke="#000" stroke-width="1"/>
<path d="M811.9,136.7H822.4L817.1,127.2Z" fill="#0000cc" stroke="#000" stroke-width="1"/>
<path d="M890.2,162.2H900.8L895.5,152.8Z" fill="#0000cc" stroke="#000" stroke-width="1"/>
<path d="M945.2,194.2H955.8L950.5,184.8Z" fill="#0000cc" stroke="#000" stroke-width="1"/>
<path d="M706.0,204.8H716.5L711.3,195.3Z" fill="#0000cc" stroke="#000" stroke-width="1"/>
<path d="M773.0,225.4H783.5L778.2,215.9Z" fill="#0000cc" stroke="#000" stroke-width="1"/>
<path d="M741.2,236.1H751.8L746.5,226.6Z" fill="#0000cc" stroke="#000" stroke-width="1"/>
<path d="M714.0,240.8H724.5L719.3,231.3Z" fill="#0000cc" stroke="#000" stroke-width="1"/>
<path d="M835.6,240.8H846.1L840.9,231.3Z" fill="#0000cc" stroke="#000" stroke-width="1"/>
<path d="M722.5,256.6H733.0L727.8,247.2Z" fill="#0000cc" stroke="#000" stroke-width="1"/>
<line x1="95.4" y1="539.4000000000001" x2="95.4" y2="864.6" stroke="#000" stroke-width="2.6"/>
<line x1="85.4" y1="854.6" x2="567.5999999999999" y2="854.6" stroke="#000" stroke-width="2.6"/>
<line x1="85.4" y1="854.5" x2="95.4" y2="854.5" stroke="#000" stroke-width="2.6"/>
<line x1="85.4" y1="791.74" x2="95.4" y2="791.74" stroke="#000" stroke-width="2.6"/>
<line x1="85.4" y1="728.98" x2="95.4" y2="728.98" stroke="#000" stroke-width="2.6"/>
<line x1="85.4" y1="666.22" x2="95.4" y2="666.22" stroke="#000" stroke-width="2.6"/>
<line x1="85.4" y1="603.46" x2="95.4" y2="603.46" stroke="#000" stroke-width="2.6"/>
<line x1="85.4" y1="540.7" x2="95.4" y2="540.7" stroke="#000" stroke-width="2.6"/>
<line x1="95.4" y1="854.6" x2="95.4" y2="864.6" stroke="#000" stroke-width="2.6"/>
<line x1="189.60000000000002" y1="854.6" x2="189.60000000000002" y2="864.6" stroke="#000" stroke-width="2.6"/>
<line x1="283.8" y1="854.6" x2="283.8" y2="864.6" stroke="#000" stroke-width="2.6"/>
<line x1="378.0" y1="854.6" x2="378.0" y2="864.6" stroke="#000" stroke-width="2.6"/>
<line x1="472.20000000000005" y1="854.6" x2="472.20000000000005" y2="864.6" stroke="#000" stroke-width="2.6"/>
<line x1="566.4" y1="854.6" x2="566.4" y2="864.6" stroke="#000" stroke-width="2.6"/>
<text transform="translate(82,861.7) scale(1,1.05)" text-anchor="end" font-family='"Liberation Sans", sans-serif' font-size="22" font-weight="bold" fill="#000">0</text>
<text transform="translate(82,798.9) scale(1,1.05)" text-anchor="end" font-family='"Liberation Sans", sans-serif' font-size="22" font-weight="bold" fill="#000">10</text>
<text transform="translate(82,736.2) scale(1,1.05)" text-anchor="end" font-family='"Liberation Sans", sans-serif' font-size="22" font-weight="bold" fill="#000">20</text>
<text transform="translate(82,673.4) scale(1,1.05)" text-anchor="end" font-family='"Liberation Sans", sans-serif' font-size="22" font-weight="bold" fill="#000">30</text>
<text transform="translate(82,610.7) scale(1,1.05)" text-anchor="end" font-family='"Liberation Sans", sans-serif' font-size="22" font-weight="bold" fill="#000">40</text>
<text transform="translate(82,547.9) scale(1,1.05)" text-anchor="end" font-family='"Liberation Sans", sans-serif' font-size="22" font-weight="bold" fill="#000">50</text>
<text transform="translate(95.4,888.5) scale(1,1.15)" text-anchor="middle" font-family='"Liberation Sans", sans-serif' font-size="22" font-weight="bold" fill="#000">0</text>
<text transform="translate(189.6,888.5) scale(1,1.15)" text-anchor="middle" font-family='"Liberation Sans", sans-serif' font-size="22" font-weight="bold" fill="#000">10</text>
<text transform="translate(283.8,888.5) scale(1,1.15)" text-anchor="middle" font-family='"Liberation Sans", sans-serif' font-size="22" font-weight="bold" fill="#000">20</text>
<text transform="translate(378.0,888.5) scale(1,1.15)" text-anchor="middle" font-family='"Liberation Sans", sans-serif' font-size="22" font-weight="bold" fill="#000">30</text>
<text transform="translate(472.2,888.5) scale(1,1.15)" text-anchor="middle" font-family='"Liberation Sans", sans-serif' font-size="22" font-weight="bold" fill="#000">40</text>
<text transform="translate(566.4,888.5) scale(1,1.15)" text-anchor="middle" font-family='"Liberation Sans", sans-serif' font-size="22" font-weight="bold" fill="#000">50</text>
<text transform="translate(328,920)" text-anchor="middle" font-family='"Liberation Sans", sans-serif' font-size="23" font-weight="bold" fill="#000" textLength="153" lengthAdjust="spacingAndGlyphs">SLEDAI score</text>
<text transform="translate(44.5,700) rotate(-90) scale(1,1.2)" text-anchor="middle" font-family='"Liberation Sans", sans-serif' font-size="24" font-weight="bold" fill="#000" textLength="297" lengthAdjust="spacingAndGlyphs">25-OH vitamin D (ng/ml)</text>
<text transform="translate(118,538)" text-anchor="start" font-family='"Liberation Serif", serif' font-size="48" font-weight="bold" fill="#000">C</text>
<rect x="448.8" y="552.8" width="125.99999999999994" height="116.80000000000007" fill="none" stroke="#000" stroke-width="2.2"/>
<text transform="translate(511.5,587.5) scale(1,1.07)" text-anchor="middle" font-family='"Liberation Sans", sans-serif' font-size="29.5" font-weight="normal" fill="#000">n = 79</text>
<text transform="translate(511.5,621) scale(1,1.07)" text-anchor="middle" font-family='"Liberation Sans", sans-serif' font-size="29.5" font-weight="normal" fill="#000">r = -0.22</text>
<text transform="translate(511.5,656) scale(1,1.07)" text-anchor="middle" font-family='"Liberation Sans", sans-serif' font-size="29.5" font-weight="normal" fill="#000">P = 0.04</text>
<line x1="161.7" y1="756.6" x2="510.2" y2="825.5" stroke="#aa0000" stroke-width="2"/>
<circle cx="161.3" cy="810.6" r="5" fill="#a00000" stroke="none" stroke-width="0"/>
<circle cx="189.6" cy="754.1" r="5" fill="#a00000" stroke="none" stroke-width="0"/>
<circle cx="189.6" cy="760.4" r="5" fill="#a00000" stroke="none" stroke-width="0"/>
<circle cx="199.0" cy="729.0" r="5" fill="#a00000" stroke="none" stroke-width="0"/>
<circle cx="199.0" cy="741.5" r="5" fill="#a00000" stroke="none" stroke-width="0"/>
<circle cx="208.4" cy="578.4" r="5" fill="#a00000" stroke="none" stroke-width="0"/>
<circle cx="208.4" cy="697.6" r="5" fill="#a00000" stroke="none" stroke-width="0"/>
<circle cx="208.4" cy="823.1" r="5" fill="#a00000" stroke="none" stroke-width="0"/>
<circle cx="208.4" cy="828.1" r="5" fill="#a00000" stroke="none" stroke-width="0"/>
<circle cx="208.4" cy="832.5" r="5" fill="#a00000" stroke="none" stroke-width="0"/>
<circle cx="217.9" cy="741.5" r="5" fill="#a00000" stroke="none" stroke-width="0"/>
<circle cx="217.9" cy="746.2" r="5" fill="#a00000" stroke="none" stroke-width="0"/>
<circle cx="217.9" cy="757.2" r="5" fill="#a00000" stroke="none" stroke-width="0"/>
<circle cx="227.3" cy="729.0" r="5" fill="#a00000" stroke="none" stroke-width="0"/>
<circle cx="227.3" cy="741.5" r="5" fill="#a00000" stroke="none" stroke-width="0"/>
<circle cx="227.3" cy="794.9" r="5" fill="#a00000" stroke="none" stroke-width="0"/>
<circle cx="236.7" cy="766.6" r="5" fill="#a00000" stroke="none" stroke-width="0"/>
<circle cx="236.7" cy="779.2" r="5" fill="#a00000" stroke="none" stroke-width="0"/>
<circle cx="236.7" cy="791.7" r="5" fill="#a00000" stroke="none" stroke-width="0"/>
<circle cx="236.7" cy="804.3" r="5" fill="#a00000" stroke="none" stroke-width="0"/>
<circle cx="236.7" cy="823.1" r="5" fill="#a00000" stroke="none" stroke-width="0"/>
<circle cx="236.7" cy="838.8" r="5" fill="#a00000" stroke="none" stroke-width="0"/>
<circle cx="246.1" cy="804.3" r="5" fill="#a00000" stroke="none" stroke-width="0"/>
<circle cx="246.1" cy="838.8" r="5" fill="#a00000" stroke="none" stroke-width="0"/>
<circle cx="255.5" cy="703.9" r="5" fill="#a00000" stroke="none" stroke-width="0"/>
<circle cx="255.5" cy="760.4" r="5" fill="#a00000" stroke="none" stroke-width="0"/>
<circle cx="255.5" cy="772.9" r="5" fill="#a00000" stroke="none" stroke-width="0"/>
<circle cx="255.5" cy="798.0" r="5" fill="#a00000" stroke="none" stroke-width="0"/>
<circle cx="265.0" cy="799.3" r="5" fill="#a00000" stroke="none" stroke-width="0"/>
<circle cx="274.4" cy="754.1" r="5" fill="#a00000" stroke="none" stroke-width="0"/>
<circle cx="274.4" cy="766.6" r="5" fill="#a00000" stroke="none" stroke-width="0"/>
<circle cx="274.4" cy="772.9" r="5" fill="#a00000" stroke="none" stroke-width="0"/>
<circle cx="274.4" cy="779.2" r="5" fill="#a00000" stroke="none" stroke-width="0"/>
<circle cx="274.4" cy="820.0" r="5" fill="#a00000" stroke="none" stroke-width="0"/>
<circle cx="274.4" cy="825.0" r="5" fill="#a00000" stroke="none" stroke-width="0"/>
<circle cx="274.4" cy="829.4" r="5" fill="#a00000" stroke="none" stroke-width="0"/>
<circle cx="274.4" cy="834.4" r="5" fill="#a00000" stroke="none" stroke-width="0"/>
<circle cx="283.8" cy="791.7" r="5" fill="#a00000" stroke="none" stroke-width="0"/>
<circle cx="283.8" cy="825.6" r="5" fill="#a00000" stroke="none" stroke-width="0"/>
<circle cx="293.2" cy="716.4" r="5" fill="#a00000" stroke="none" stroke-width="0"/>
<circle cx="293.2" cy="735.3" r="5" fill="#a00000" stroke="none" stroke-width="0"/>
<circle cx="293.2" cy="741.5" r="5" fill="#a00000" stroke="none" stroke-width="0"/>
<circle cx="293.2" cy="803.7" r="5" fill="#a00000" stroke="none" stroke-width="0"/>
<circle cx="293.2" cy="809.9" r="5" fill="#a00000" stroke="none" stroke-width="0"/>
<circle cx="293.2" cy="830.7" r="5" fill="#a00000" stroke="none" stroke-width="0"/>
<circle cx="302.6" cy="794.9" r="5" fill="#a00000" stroke="none" stroke-width="0"/>
<circle cx="312.1" cy="691.3" r="5" fill="#a00000" stroke="none" stroke-width="0"/>
<circle cx="312.1" cy="769.8" r="5" fill="#a00000" stroke="none" stroke-width="0"/>
<circle cx="312.1" cy="775.4" r="5" fill="#a00000" stroke="none" stroke-width="0"/>
<circle cx="312.1" cy="784.2" r="5" fill="#a00000" stroke="none" stroke-width="0"/>
<circle cx="312.1" cy="799.9" r="5" fill="#a00000" stroke="none" stroke-width="0"/>
<circle cx="312.1" cy="805.5" r="5" fill="#a00000" stroke="none" stroke-width="0"/>
<circle cx="321.5" cy="741.5" r="5" fill="#a00000" stroke="none" stroke-width="0"/>
<circle cx="321.5" cy="806.2" r="5" fill="#a00000" stroke="none" stroke-width="0"/>
<circle cx="321.5" cy="820.0" r="5" fill="#a00000" stroke="none" stroke-width="0"/>
<circle cx="330.9" cy="754.1" r="5" fill="#a00000" stroke="none" stroke-width="0"/>
<circle cx="340.3" cy="729.0" r="5" fill="#a00000" stroke="none" stroke-width="0"/>
<circle cx="340.3" cy="747.8" r="5" fill="#a00000" stroke="none" stroke-width="0"/>
<circle cx="340.3" cy="837.2" r="5" fill="#a00000" stroke="none" stroke-width="0"/>
<circle cx="349.7" cy="779.2" r="5" fill="#a00000" stroke="none" stroke-width="0"/>
<circle cx="349.7" cy="788.6" r="5" fill="#a00000" stroke="none" stroke-width="0"/>
<circle cx="349.7" cy="794.9" r="5" fill="#a00000" stroke="none" stroke-width="0"/>
<circle cx="349.7" cy="799.0" r="5" fill="#a00000" stroke="none" stroke-width="0"/>
<circle cx="359.2" cy="785.5" r="5" fill="#a00000" stroke="none" stroke-width="0"/>
<circle cx="368.6" cy="794.3" r="5" fill="#a00000" stroke="none" stroke-width="0"/>
<circle cx="368.6" cy="801.8" r="5" fill="#a00000" stroke="none" stroke-width="0"/>
<circle cx="368.6" cy="809.3" r="5" fill="#a00000" stroke="none" stroke-width="0"/>
<circle cx="368.6" cy="817.5" r="5" fill="#a00000" stroke="none" stroke-width="0"/>
<circle cx="368.6" cy="829.4" r="5" fill="#a00000" stroke="none" stroke-width="0"/>
<circle cx="378.0" cy="766.6" r="5" fill="#a00000" stroke="none" stroke-width="0"/>
<circle cx="425.1" cy="779.2" r="5" fill="#a00000" stroke="none" stroke-width="0"/>
<circle cx="425.1" cy="830.7" r="5" fill="#a00000" stroke="none" stroke-width="0"/>
<circle cx="434.5" cy="832.5" r="5" fill="#a00000" stroke="none" stroke-width="0"/>
<circle cx="453.4" cy="825.0" r="5" fill="#a00000" stroke="none" stroke-width="0"/>
<circle cx="509.9" cy="841.3" r="5" fill="#a00000" stroke="none" stroke-width="0"/>
<line x1="681.2" y1="611.5" x2="681.2" y2="865.3" stroke="#000" stroke-width="2.6"/>
<line x1="673.2" y1="857.3" x2="1051.3" y2="857.3" stroke="#000" stroke-width="2.6"/>
<line x1="673.2" y1="857.3" x2="681.2" y2="857.3" stroke="#000" stroke-width="2.6"/>
<line x1="673.2" y1="775.8" x2="681.2" y2="775.8" stroke="#000" stroke-width="2.6"/>
<line x1="673.2" y1="694.3" x2="681.2" y2="694.3" stroke="#000" stroke-width="2.6"/>
<line x1="673.2" y1="612.8" x2="681.2" y2="612.8" stroke="#000" stroke-width="2.6"/>
<line x1="681.2" y1="857.3" x2="681.2" y2="865.3" stroke="#000" stroke-width="2.6"/>
<line x1="754.95" y1="857.3" x2="754.95" y2="865.3" stroke="#000" stroke-width="2.6"/>
<line x1="828.7" y1="857.3" x2="828.7" y2="865.3" stroke="#000" stroke-width="2.6"/>
<line x1="902.45" y1="857.3" x2="902.45" y2="865.3" stroke="#000" stroke-width="2.6"/>
<line x1="976.2" y1="857.3" x2="976.2" y2="865.3" stroke="#000" stroke-width="2.6"/>
<line x1="1049.95" y1="857.3" x2="1049.95" y2="865.3" stroke="#000" stroke-width="2.6"/>
<text transform="translate(670.5,862.1) scale(1,1.05)" text-anchor="end" font-family='"Liberation Sans", sans-serif' font-size="16" font-weight="bold" fill="#000">0</text>
<text transform="translate(670.5,780.6) scale(1,1.05)" text-anchor="end" font-family='"Liberation Sans", sans-serif' font-size="16" font-weight="bold" fill="#000">20</text>
<text transform="translate(670.5,699.1) scale(1,1.05)" text-anchor="end" font-family='"Liberation Sans", sans-serif' font-size="16" font-weight="bold" fill="#000">40</text>
<text transform="translate(670.5,617.6) scale(1,1.05)" text-anchor="end" font-family='"Liberation Sans", sans-serif' font-size="16" font-weight="bold" fill="#000">60</text>
<text transform="translate(680.2,884) scale(1,1.12)" text-anchor="middle" font-family='"Liberation Sans", sans-serif' font-size="16.5" font-weight="bold" fill="#000">0</text>
<text transform="translate(754.0,884) scale(1,1.12)" text-anchor="middle" font-family='"Liberation Sans", sans-serif' font-size="16.5" font-weight="bold" fill="#000">5</text>
<text transform="translate(827.7,884) scale(1,1.12)" text-anchor="middle" font-family='"Liberation Sans", sans-serif' font-size="16.5" font-weight="bold" fill="#000">10</text>
<text transform="translate(901.5,884) scale(1,1.12)" text-anchor="middle" font-family='"Liberation Sans", sans-serif' font-size="16.5" font-weight="bold" fill="#000">15</text>
<text transform="translate(975.2,884) scale(1,1.12)" text-anchor="middle" font-family='"Liberation Sans", sans-serif' font-size="16.5" font-weight="bold" fill="#000">20</text>
<text transform="translate(1049.0,884) scale(1,1.12)" text-anchor="middle" font-family='"Liberation Sans", sans-serif' font-size="16.5" font-weight="bold" fill="#000">25</text>
<text transform="translate(866.5,913.3)" text-anchor="middle" font-family='"Liberation Sans", sans-serif' font-size="23" font-weight="bold" fill="#000" textLength="153" lengthAdjust="spacingAndGlyphs">SLEDAI score</text>
<text transform="translate(638.2,735) rotate(-90)" text-anchor="middle" font-family='"Liberation Sans", sans-serif' font-size="20" font-weight="normal" fill="#000" stroke="#000" stroke-width="0.45" textLength="228" lengthAdjust="spacingAndGlyphs">25-OH vitamin D (ng/ml)</text>
<text transform="translate(693.5,568.7)" text-anchor="start" font-family='"Liberation Serif", serif' font-size="48" font-weight="bold" fill="#000">D</text>
<rect x="1021.9" y="585" width="125.60000000000002" height="91.25" fill="none" stroke="#000" stroke-width="2.2"/>
<text transform="translate(1084.4,610.5) scale(1,1.04)" text-anchor="middle" font-family='"Liberation Sans", sans-serif' font-size="23" font-weight="normal" fill="#000">n = 50</text>
<text transform="translate(1084.4,638) scale(1,1.04)" text-anchor="middle" font-family='"Liberation Sans", sans-serif' font-size="23" font-weight="normal" fill="#000">r = -0.52</text>
<text transform="translate(1084.4,665) scale(1,1.04)" text-anchor="middle" font-family='"Liberation Sans", sans-serif' font-size="23" font-weight="normal" fill="#000">P &lt; 0.0001</text>
<line x1="799" y1="739.6" x2="991" y2="810" stroke="#000" stroke-width="2"/>
<path d="M794.7,734.6H803.7L799.2,743.6Z" fill="#0000ff" stroke="none" stroke-width="0"/>
<path d="M794.7,738.7H803.7L799.2,747.7Z" fill="#0000ff" stroke="none" stroke-width="0"/>
<path d="M809.5,706.1H818.5L814.0,715.1Z" fill="#0000ff" stroke="none" stroke-width="0"/>
<path d="M809.5,710.2H818.5L814.0,719.2Z" fill="#0000ff" stroke="none" stroke-width="0"/>
<path d="M809.5,722.4H818.5L814.0,731.4Z" fill="#0000ff" stroke="none" stroke-width="0"/>
<path d="M809.5,759.1H818.5L814.0,768.1Z" fill="#0000ff" stroke="none" stroke-width="0"/>
<path d="M809.5,771.3H818.5L814.0,780.3Z" fill="#0000ff" stroke="none" stroke-width="0"/>
<path d="M809.5,789.6H818.5L814.0,798.6Z" fill="#0000ff" stroke="none" stroke-width="0"/>
<path d="M809.5,826.3H818.5L814.0,835.3Z" fill="#0000ff" stroke="none" stroke-width="0"/>
<path d="M824.2,750.9H833.2L828.7,759.9Z" fill="#0000ff" stroke="none" stroke-width="0"/>
<path d="M824.2,755.0H833.2L828.7,764.0Z" fill="#0000ff" stroke="none" stroke-width="0"/>
<path d="M839.0,722.4H848.0L843.5,731.4Z" fill="#0000ff" stroke="none" stroke-width="0"/>
<path d="M839.0,759.1H848.0L843.5,768.1Z" fill="#0000ff" stroke="none" stroke-width="0"/>
<path d="M853.7,649.0H862.7L858.2,658.0Z" fill="#0000ff" stroke="none" stroke-width="0"/>
<path d="M853.7,681.6H862.7L858.2,690.6Z" fill="#0000ff" stroke="none" stroke-width="0"/>
<path d="M853.7,734.6H862.7L858.2,743.6Z" fill="#0000ff" stroke="none" stroke-width="0"/>
<path d="M853.7,787.6H862.7L858.2,796.6Z" fill="#0000ff" stroke="none" stroke-width="0"/>
<path d="M868.5,710.2H877.5L873.0,719.2Z" fill="#0000ff" stroke="none" stroke-width="0"/>
<path d="M868.5,730.5H877.5L873.0,739.5Z" fill="#0000ff" stroke="none" stroke-width="0"/>
<path d="M868.5,744.8H877.5L873.0,753.8Z" fill="#0000ff" stroke="none" stroke-width="0"/>
<path d="M868.5,821.8H877.5L873.0,830.8Z" fill="#0000ff" stroke="none" stroke-width="0"/>
<path d="M868.5,832.4H877.5L873.0,841.4Z" fill="#0000ff" stroke="none" stroke-width="0"/>
<path d="M883.2,738.7H892.2L887.7,747.7Z" fill="#0000ff" stroke="none" stroke-width="0"/>
<path d="M898.0,734.6H907.0L902.5,743.6Z" fill="#0000ff" stroke="none" stroke-width="0"/>
<path d="M898.0,788.8H907.0L902.5,797.8Z" fill="#0000ff" stroke="none" stroke-width="0"/>
<path d="M912.7,825.5H921.7L917.2,834.5Z" fill="#0000ff" stroke="none" stroke-width="0"/>
<path d="M927.5,771.3H936.5L932.0,780.3Z" fill="#0000ff" stroke="none" stroke-width="0"/>
<path d="M927.5,775.4H936.5L932.0,784.4Z" fill="#0000ff" stroke="none" stroke-width="0"/>
<path d="M927.5,787.6H936.5L932.0,796.6Z" fill="#0000ff" stroke="none" stroke-width="0"/>
<path d="M927.5,802.3H936.5L932.0,811.3Z" fill="#0000ff" stroke="none" stroke-width="0"/>
<path d="M927.5,821.8H936.5L932.0,830.8Z" fill="#0000ff" stroke="none" stroke-width="0"/>
<path d="M927.5,835.3H936.5L932.0,844.3Z" fill="#0000ff" stroke="none" stroke-width="0"/>
<path d="M942.2,794.9H951.2L946.7,803.9Z" fill="#0000ff" stroke="none" stroke-width="0"/>
<path d="M957.0,742.8H966.0L961.5,751.8Z" fill="#0000ff" stroke="none" stroke-width="0"/>
<path d="M957.0,797.8H966.0L961.5,806.8Z" fill="#0000ff" stroke="none" stroke-width="0"/>
<path d="M957.0,801.5H966.0L961.5,810.5Z" fill="#0000ff" stroke="none" stroke-width="0"/>
<path d="M957.0,808.0H966.0L961.5,817.0Z" fill="#0000ff" stroke="none" stroke-width="0"/>
<path d="M957.0,820.6H966.0L961.5,829.6Z" fill="#0000ff" stroke="none" stroke-width="0"/>
<path d="M957.0,828.8H966.0L961.5,837.8Z" fill="#0000ff" stroke="none" stroke-width="0"/>
<path d="M957.0,834.5H966.0L961.5,843.5Z" fill="#0000ff" stroke="none" stroke-width="0"/>
<path d="M971.7,779.4H980.7L976.2,788.4Z" fill="#0000ff" stroke="none" stroke-width="0"/>
<path d="M986.5,628.7H995.5L991.0,637.7Z" fill="#0000ff" stroke="none" stroke-width="0"/>
<path d="M986.5,788.8H995.5L991.0,797.8Z" fill="#0000ff" stroke="none" stroke-width="0"/>
<path d="M986.5,802.3H995.5L991.0,811.3Z" fill="#0000ff" stroke="none" stroke-width="0"/>
<path d="M986.5,810.4H995.5L991.0,819.4Z" fill="#0000ff" stroke="none" stroke-width="0"/>
<path d="M986.5,832.4H995.5L991.0,841.4Z" fill="#0000ff" stroke="none" stroke-width="0"/>
<path d="M986.5,835.7H995.5L991.0,844.7Z" fill="#0000ff" stroke="none" stroke-width="0"/>
<line x1="96.7" y1="1006.7" x2="96.7" y2="1310" stroke="#000" stroke-width="2.6"/>
<line x1="86.7" y1="1300" x2="534.3" y2="1300" stroke="#000" stroke-width="2.6"/>
<line x1="86.7" y1="1300.0" x2="96.7" y2="1300.0" stroke="#000" stroke-width="2.6"/>
<line x1="86.7" y1="1241.7" x2="96.7" y2="1241.7" stroke="#000" stroke-width="2.6"/>
<line x1="86.7" y1="1183.4" x2="96.7" y2="1183.4" stroke="#000" stroke-width="2.6"/>
<line x1="86.7" y1="1125.1" x2="96.7" y2="1125.1" stroke="#000" stroke-width="2.6"/>
<line x1="86.7" y1="1066.8" x2="96.7" y2="1066.8" stroke="#000" stroke-width="2.6"/>
<line x1="86.7" y1="1008.5" x2="96.7" y2="1008.5" stroke="#000" stroke-width="2.6"/>
<line x1="96.7" y1="1300" x2="96.7" y2="1310" stroke="#000" stroke-width="2.6"/>
<line x1="184.0" y1="1300" x2="184.0" y2="1310" stroke="#000" stroke-width="2.6"/>
<line x1="271.3" y1="1300" x2="271.3" y2="1310" stroke="#000" stroke-width="2.6"/>
<line x1="358.6" y1="1300" x2="358.6" y2="1310" stroke="#000" stroke-width="2.6"/>
<line x1="445.90000000000003" y1="1300" x2="445.90000000000003" y2="1310" stroke="#000" stroke-width="2.6"/>
<line x1="533.2" y1="1300" x2="533.2" y2="1310" stroke="#000" stroke-width="2.6"/>
<text transform="translate(84,1305.2) scale(1,1.02)" text-anchor="end" font-family='"Liberation Sans", sans-serif' font-size="19.5" font-weight="bold" fill="#000">0</text>
<text transform="translate(84,1246.9) scale(1,1.02)" text-anchor="end" font-family='"Liberation Sans", sans-serif' font-size="19.5" font-weight="bold" fill="#000">10</text>
<text transform="translate(84,1188.6) scale(1,1.02)" text-anchor="end" font-family='"Liberation Sans", sans-serif' font-size="19.5" font-weight="bold" fill="#000">20</text>
<text transform="translate(84,1130.3) scale(1,1.02)" text-anchor="end" font-family='"Liberation Sans", sans-serif' font-size="19.5" font-weight="bold" fill="#000">30</text>
<text transform="translate(84,1072.0) scale(1,1.02)" text-anchor="end" font-family='"Liberation Sans", sans-serif' font-size="19.5" font-weight="bold" fill="#000">40</text>
<text transform="translate(84,1013.7) scale(1,1.02)" text-anchor="end" font-family='"Liberation Sans", sans-serif' font-size="19.5" font-weight="bold" fill="#000">50</text>
<text transform="translate(95.7,1329) scale(1,1.07)" text-anchor="middle" font-family='"Liberation Sans", sans-serif' font-size="19.5" font-weight="bold" fill="#000">0</text>
<text transform="translate(183.0,1329) scale(1,1.07)" text-anchor="middle" font-family='"Liberation Sans", sans-serif' font-size="19.5" font-weight="bold" fill="#000">10</text>
<text transform="translate(270.3,1329) scale(1,1.07)" text-anchor="middle" font-family='"Liberation Sans", sans-serif' font-size="19.5" font-weight="bold" fill="#000">20</text>
<text transform="translate(357.6,1329) scale(1,1.07)" text-anchor="middle" font-family='"Liberation Sans", sans-serif' font-size="19.5" font-weight="bold" fill="#000">30</text>
<text transform="translate(444.9,1329) scale(1,1.07)" text-anchor="middle" font-family='"Liberation Sans", sans-serif' font-size="19.5" font-weight="bold" fill="#000">40</text>
<text transform="translate(532.2,1329) scale(1,1.07)" text-anchor="middle" font-family='"Liberation Sans", sans-serif' font-size="19.5" font-weight="bold" fill="#000">50</text>
<text transform="translate(312.5,1362.5) scale(1,1.12)" text-anchor="middle" font-family='"Liberation Sans", sans-serif' font-size="22.5" font-weight="bold" fill="#000" textLength="273" lengthAdjust="spacingAndGlyphs">SLEDAI (-ds DNA score)</text>
<text transform="translate(48,1153.7) rotate(-90)" text-anchor="middle" font-family='"Liberation Sans", sans-serif' font-size="23" font-weight="bold" fill="#000" textLength="269" lengthAdjust="spacingAndGlyphs">25-OH vitamin D (ng/ml)</text>
<text transform="translate(121.6,1007)" text-anchor="start" font-family='"Liberation Serif", serif' font-size="46" font-weight="bold" fill="#000">E</text>
<rect x="424" y="1006.9" width="117.79999999999995" height="107.30000000000007" fill="none" stroke="#000" stroke-width="2.2"/>
<text transform="translate(482.5,1037.3) scale(1,1.05)" text-anchor="middle" font-family='"Liberation Sans", sans-serif' font-size="27.5" font-weight="normal" fill="#000">n = 79</text>
<text transform="translate(482.5,1069.7) scale(1,1.05)" text-anchor="middle" font-family='"Liberation Sans", sans-serif' font-size="27.5" font-weight="normal" fill="#000">r = -0.22</text>
<text transform="translate(482.5,1102.3) scale(1,1.05)" text-anchor="middle" font-family='"Liberation Sans", sans-serif' font-size="27.5" font-weight="normal" fill="#000">P = 0.04</text>
<line x1="139.8" y1="1207.7" x2="461.3" y2="1270.4" stroke="#000" stroke-width="2"/>
<path d="M136.1,1263.4H144.6L140.4,1254.9Z" fill="#000080" stroke="#000" stroke-width="1"/>
<path d="M162.3,1216.8H170.8L166.5,1208.3Z" fill="#000080" stroke="#000" stroke-width="1"/>
<path d="M179.8,1047.7H188.2L184.0,1039.2Z" fill="#000080" stroke="#000" stroke-width="1"/>
<path d="M179.8,1158.5H188.2L184.0,1150.0Z" fill="#000080" stroke="#000" stroke-width="1"/>
<path d="M179.8,1211.0H188.2L184.0,1202.5Z" fill="#000080" stroke="#000" stroke-width="1"/>
<path d="M179.8,1275.1H188.2L184.0,1266.6Z" fill="#000080" stroke="#000" stroke-width="1"/>
<path d="M188.5,1187.7H197.0L192.7,1179.2Z" fill="#000080" stroke="#000" stroke-width="1"/>
<path d="M188.5,1199.3H197.0L192.7,1190.8Z" fill="#000080" stroke="#000" stroke-width="1"/>
<path d="M188.5,1205.1H197.0L192.7,1196.6Z" fill="#000080" stroke="#000" stroke-width="1"/>
<path d="M188.5,1215.1H197.0L192.7,1206.6Z" fill="#000080" stroke="#000" stroke-width="1"/>
<path d="M197.2,1187.7H205.7L201.5,1179.2Z" fill="#000080" stroke="#000" stroke-width="1"/>
<path d="M197.2,1199.3H205.7L201.5,1190.8Z" fill="#000080" stroke="#000" stroke-width="1"/>
<path d="M197.2,1248.9H205.7L201.5,1240.4Z" fill="#000080" stroke="#000" stroke-width="1"/>
<path d="M197.2,1283.8H205.7L201.5,1275.3Z" fill="#000080" stroke="#000" stroke-width="1"/>
<path d="M205.9,1222.6H214.4L210.2,1214.1Z" fill="#000080" stroke="#000" stroke-width="1"/>
<path d="M205.9,1258.8H214.4L210.2,1250.3Z" fill="#000080" stroke="#000" stroke-width="1"/>
<path d="M205.9,1275.1H214.4L210.2,1266.6Z" fill="#000080" stroke="#000" stroke-width="1"/>
<path d="M205.9,1289.1H214.4L210.2,1280.6Z" fill="#000080" stroke="#000" stroke-width="1"/>
<path d="M214.7,1257.6H223.2L218.9,1249.1Z" fill="#000080" stroke="#000" stroke-width="1"/>
<path d="M214.7,1289.1H223.2L218.9,1280.6Z" fill="#000080" stroke="#000" stroke-width="1"/>
<path d="M223.4,1164.3H231.9L227.7,1155.8Z" fill="#000080" stroke="#000" stroke-width="1"/>
<path d="M223.4,1216.8H231.9L227.7,1208.3Z" fill="#000080" stroke="#000" stroke-width="1"/>
<path d="M223.4,1229.6H231.9L227.7,1221.1Z" fill="#000080" stroke="#000" stroke-width="1"/>
<path d="M223.4,1234.9H231.9L227.7,1226.4Z" fill="#000080" stroke="#000" stroke-width="1"/>
<path d="M223.4,1246.5H231.9L227.7,1238.0Z" fill="#000080" stroke="#000" stroke-width="1"/>
<path d="M223.4,1251.8H231.9L227.7,1243.3Z" fill="#000080" stroke="#000" stroke-width="1"/>
<path d="M240.9,1222.6H249.4L245.1,1214.1Z" fill="#000080" stroke="#000" stroke-width="1"/>
<path d="M240.9,1228.5H249.4L245.1,1220.0Z" fill="#000080" stroke="#000" stroke-width="1"/>
<path d="M240.9,1234.3H249.4L245.1,1225.8Z" fill="#000080" stroke="#000" stroke-width="1"/>
<path d="M240.9,1272.8H249.4L245.1,1264.3Z" fill="#000080" stroke="#000" stroke-width="1"/>
<path d="M240.9,1278.6H249.4L245.1,1270.1Z" fill="#000080" stroke="#000" stroke-width="1"/>
<path d="M240.9,1283.8H249.4L245.1,1275.3Z" fill="#000080" stroke="#000" stroke-width="1"/>
<path d="M240.9,1288.5H249.4L245.1,1280.0Z" fill="#000080" stroke="#000" stroke-width="1"/>
<path d="M249.6,1246.5H258.1L253.8,1238.0Z" fill="#000080" stroke="#000" stroke-width="1"/>
<path d="M249.6,1252.9H258.1L253.8,1244.4Z" fill="#000080" stroke="#000" stroke-width="1"/>
<path d="M258.3,1176.0H266.8L262.6,1167.5Z" fill="#000080" stroke="#000" stroke-width="1"/>
<path d="M258.3,1194.1H266.8L262.6,1185.6Z" fill="#000080" stroke="#000" stroke-width="1"/>
<path d="M258.3,1199.3H266.8L262.6,1190.8Z" fill="#000080" stroke="#000" stroke-width="1"/>
<path d="M258.3,1211.0H266.8L262.6,1202.5Z" fill="#000080" stroke="#000" stroke-width="1"/>
<path d="M258.3,1257.6H266.8L262.6,1249.1Z" fill="#000080" stroke="#000" stroke-width="1"/>
<path d="M258.3,1264.6H266.8L262.6,1256.1Z" fill="#000080" stroke="#000" stroke-width="1"/>
<path d="M258.3,1282.1H266.8L262.6,1273.6Z" fill="#000080" stroke="#000" stroke-width="1"/>
<path d="M267.1,1248.9H275.6L271.3,1240.4Z" fill="#000080" stroke="#000" stroke-width="1"/>
<path d="M267.1,1278.6H275.6L271.3,1270.1Z" fill="#000080" stroke="#000" stroke-width="1"/>
<path d="M275.8,1152.7H284.3L280.0,1144.2Z" fill="#000080" stroke="#000" stroke-width="1"/>
<path d="M275.8,1196.4H284.3L280.0,1187.9Z" fill="#000080" stroke="#000" stroke-width="1"/>
<path d="M275.8,1231.4H284.3L280.0,1222.9Z" fill="#000080" stroke="#000" stroke-width="1"/>
<path d="M275.8,1239.5H284.3L280.0,1231.0Z" fill="#000080" stroke="#000" stroke-width="1"/>
<path d="M275.8,1257.6H284.3L280.0,1249.1Z" fill="#000080" stroke="#000" stroke-width="1"/>
<path d="M284.5,1257.6H293.0L288.8,1249.1Z" fill="#000080" stroke="#000" stroke-width="1"/>
<path d="M284.5,1272.2H293.0L288.8,1263.7Z" fill="#000080" stroke="#000" stroke-width="1"/>
<path d="M293.2,1211.0H301.7L297.5,1202.5Z" fill="#000080" stroke="#000" stroke-width="1"/>
<path d="M293.2,1225.5H301.7L297.5,1217.0Z" fill="#000080" stroke="#000" stroke-width="1"/>
<path d="M293.2,1239.5H301.7L297.5,1231.0Z" fill="#000080" stroke="#000" stroke-width="1"/>
<path d="M293.2,1252.9H301.7L297.5,1244.4Z" fill="#000080" stroke="#000" stroke-width="1"/>
<path d="M302.0,1187.7H310.5L306.2,1179.2Z" fill="#000080" stroke="#000" stroke-width="1"/>
<path d="M302.0,1199.3H310.5L306.2,1190.8Z" fill="#000080" stroke="#000" stroke-width="1"/>
<path d="M302.0,1288.5H310.5L306.2,1280.0Z" fill="#000080" stroke="#000" stroke-width="1"/>
<path d="M310.7,1234.9H319.2L314.9,1226.4Z" fill="#000080" stroke="#000" stroke-width="1"/>
<path d="M310.7,1243.0H319.2L314.9,1234.5Z" fill="#000080" stroke="#000" stroke-width="1"/>
<path d="M310.7,1252.4H319.2L314.9,1243.9Z" fill="#000080" stroke="#000" stroke-width="1"/>
<path d="M319.4,1205.1H327.9L323.7,1196.6Z" fill="#000080" stroke="#000" stroke-width="1"/>
<path d="M319.4,1240.1H327.9L323.7,1231.6Z" fill="#000080" stroke="#000" stroke-width="1"/>
<path d="M328.2,1248.3H336.7L332.4,1239.8Z" fill="#000080" stroke="#000" stroke-width="1"/>
<path d="M328.2,1255.3H336.7L332.4,1246.8Z" fill="#000080" stroke="#000" stroke-width="1"/>
<path d="M328.2,1260.5H336.7L332.4,1252.0Z" fill="#000080" stroke="#000" stroke-width="1"/>
<path d="M328.2,1266.4H336.7L332.4,1257.9Z" fill="#000080" stroke="#000" stroke-width="1"/>
<path d="M328.2,1271.6H336.7L332.4,1263.1Z" fill="#000080" stroke="#000" stroke-width="1"/>
<path d="M328.2,1281.5H336.7L332.4,1273.0Z" fill="#000080" stroke="#000" stroke-width="1"/>
<path d="M336.9,1222.6H345.4L341.1,1214.1Z" fill="#000080" stroke="#000" stroke-width="1"/>
<path d="M380.5,1234.3H389.0L384.8,1225.8Z" fill="#000080" stroke="#000" stroke-width="1"/>
<path d="M380.5,1282.7H389.0L384.8,1274.2Z" fill="#000080" stroke="#000" stroke-width="1"/>
<path d="M389.3,1283.8H397.8L393.5,1275.3Z" fill="#000080" stroke="#000" stroke-width="1"/>
<path d="M406.7,1276.8H415.2L411.0,1268.3Z" fill="#000080" stroke="#000" stroke-width="1"/>
<path d="M459.1,1292.2H467.6L463.4,1283.7Z" fill="#000080" stroke="#000" stroke-width="1"/>
<line x1="678.5" y1="1032.7" x2="678.5" y2="1311.6" stroke="#000" stroke-width="2.6"/>
<line x1="669.5" y1="1302.6" x2="1086.3" y2="1302.6" stroke="#000" stroke-width="2.6"/>
<line x1="669.5" y1="1302.6" x2="678.5" y2="1302.6" stroke="#000" stroke-width="2.6"/>
<line x1="669.5" y1="1213.3" x2="678.5" y2="1213.3" stroke="#000" stroke-width="2.6"/>
<line x1="669.5" y1="1124.0" x2="678.5" y2="1124.0" stroke="#000" stroke-width="2.6"/>
<line x1="669.5" y1="1034.6999999999998" x2="678.5" y2="1034.6999999999998" stroke="#000" stroke-width="2.6"/>
<line x1="678.5" y1="1302.6" x2="678.5" y2="1311.6" stroke="#000" stroke-width="2.6"/>
<line x1="759.8" y1="1302.6" x2="759.8" y2="1311.6" stroke="#000" stroke-width="2.6"/>
<line x1="841.1" y1="1302.6" x2="841.1" y2="1311.6" stroke="#000" stroke-width="2.6"/>
<line x1="922.4000000000001" y1="1302.6" x2="922.4000000000001" y2="1311.6" stroke="#000" stroke-width="2.6"/>
<line x1="1003.7" y1="1302.6" x2="1003.7" y2="1311.6" stroke="#000" stroke-width="2.6"/>
<line x1="1085.0" y1="1302.6" x2="1085.0" y2="1311.6" stroke="#000" stroke-width="2.6"/>
<text transform="translate(668,1308.6) scale(1,1.03)" text-anchor="end" font-family='"Liberation Sans", sans-serif' font-size="19.5" font-weight="bold" fill="#000">0</text>
<text transform="translate(668,1219.3) scale(1,1.03)" text-anchor="end" font-family='"Liberation Sans", sans-serif' font-size="19.5" font-weight="bold" fill="#000">20</text>
<text transform="translate(668,1130.0) scale(1,1.03)" text-anchor="end" font-family='"Liberation Sans", sans-serif' font-size="19.5" font-weight="bold" fill="#000">40</text>
<text transform="translate(668,1040.7) scale(1,1.03)" text-anchor="end" font-family='"Liberation Sans", sans-serif' font-size="19.5" font-weight="bold" fill="#000">60</text>
<text transform="translate(679.5,1330) scale(1,1.07)" text-anchor="middle" font-family='"Liberation Sans", sans-serif' font-size="19.5" font-weight="bold" fill="#000">0</text>
<text transform="translate(760.8,1330) scale(1,1.07)" text-anchor="middle" font-family='"Liberation Sans", sans-serif' font-size="19.5" font-weight="bold" fill="#000">5</text>
<text transform="translate(842.1,1330) scale(1,1.07)" text-anchor="middle" font-family='"Liberation Sans", sans-serif' font-size="19.5" font-weight="bold" fill="#000">10</text>
<text transform="translate(923.4,1330) scale(1,1.07)" text-anchor="middle" font-family='"Liberation Sans", sans-serif' font-size="19.5" font-weight="bold" fill="#000">15</text>
<text transform="translate(1004.7,1330) scale(1,1.07)" text-anchor="middle" font-family='"Liberation Sans", sans-serif' font-size="19.5" font-weight="bold" fill="#000">20</text>
<text transform="translate(1086.0,1330) scale(1,1.07)" text-anchor="middle" font-family='"Liberation Sans", sans-serif' font-size="19.5" font-weight="bold" fill="#000">25</text>
<text transform="translate(880,1360.3) scale(1,1.12)" text-anchor="middle" font-family='"Liberation Sans", sans-serif' font-size="18.5" font-weight="bold" fill="#000" textLength="251.5" lengthAdjust="spacing">SLEDAI (-ds DNA score)</text>
<text transform="translate(632,1168) rotate(-90)" text-anchor="middle" font-family='"Liberation Sans", sans-serif' font-size="22" font-weight="normal" fill="#000" stroke="#000" stroke-width="0.45" textLength="251" lengthAdjust="spacingAndGlyphs">25-OH vitamin D (ng/ml)</text>
<text transform="translate(704,1022.7)" text-anchor="start" font-family='"Liberation Serif", serif' font-size="48" font-weight="bold" fill="#000">F</text>
<rect x="1024.3" y="1075" width="138.70000000000005" height="100" fill="none" stroke="#000" stroke-width="2.2"/>
<text transform="translate(1092.5,1103.5) scale(1,1.03)" text-anchor="middle" font-family='"Liberation Sans", sans-serif' font-size="25.8" font-weight="normal" fill="#000">n = 50</text>
<text transform="translate(1092.5,1132.8) scale(1,1.03)" text-anchor="middle" font-family='"Liberation Sans", sans-serif' font-size="25.8" font-weight="normal" fill="#000">r = -0.46</text>
<text transform="translate(1092.5,1162.7) scale(1,1.03)" text-anchor="middle" font-family='"Liberation Sans", sans-serif' font-size="25.8" font-weight="normal" fill="#000">P = 0.0007</text>
<line x1="792" y1="1177.9" x2="1021.2" y2="1254.7" stroke="#aa0000" stroke-width="2"/>
<circle cx="792.3" cy="1141.9" r="4.4" fill="#a00000" stroke="none" stroke-width="0"/>
<circle cx="792.3" cy="1199.9" r="4.4" fill="#a00000" stroke="none" stroke-width="0"/>
<circle cx="792.3" cy="1213.3" r="4.4" fill="#a00000" stroke="none" stroke-width="0"/>
<circle cx="792.3" cy="1233.4" r="4.4" fill="#a00000" stroke="none" stroke-width="0"/>
<circle cx="792.3" cy="1273.1" r="4.4" fill="#a00000" stroke="none" stroke-width="0"/>
<circle cx="808.6" cy="1173.1" r="4.4" fill="#a00000" stroke="none" stroke-width="0"/>
<circle cx="808.6" cy="1177.6" r="4.4" fill="#a00000" stroke="none" stroke-width="0"/>
<circle cx="824.8" cy="1146.3" r="4.4" fill="#a00000" stroke="none" stroke-width="0"/>
<circle cx="824.8" cy="1159.7" r="4.4" fill="#a00000" stroke="none" stroke-width="0"/>
<circle cx="841.1" cy="1079.3" r="4.4" fill="#a00000" stroke="none" stroke-width="0"/>
<circle cx="841.1" cy="1190.1" r="4.4" fill="#a00000" stroke="none" stroke-width="0"/>
<circle cx="841.1" cy="1195.4" r="4.4" fill="#a00000" stroke="none" stroke-width="0"/>
<circle cx="841.1" cy="1231.2" r="4.4" fill="#a00000" stroke="none" stroke-width="0"/>
<circle cx="857.4" cy="1146.3" r="4.4" fill="#a00000" stroke="none" stroke-width="0"/>
<circle cx="857.4" cy="1168.6" r="4.4" fill="#a00000" stroke="none" stroke-width="0"/>
<circle cx="857.4" cy="1184.3" r="4.4" fill="#a00000" stroke="none" stroke-width="0"/>
<circle cx="857.4" cy="1199.9" r="4.4" fill="#a00000" stroke="none" stroke-width="0"/>
<circle cx="857.4" cy="1268.7" r="4.4" fill="#a00000" stroke="none" stroke-width="0"/>
<circle cx="857.4" cy="1280.7" r="4.4" fill="#a00000" stroke="none" stroke-width="0"/>
<circle cx="873.6" cy="1115.1" r="4.4" fill="#a00000" stroke="none" stroke-width="0"/>
<circle cx="873.6" cy="1173.1" r="4.4" fill="#a00000" stroke="none" stroke-width="0"/>
<circle cx="873.6" cy="1177.6" r="4.4" fill="#a00000" stroke="none" stroke-width="0"/>
<circle cx="889.9" cy="1168.6" r="4.4" fill="#a00000" stroke="none" stroke-width="0"/>
<circle cx="889.9" cy="1173.1" r="4.4" fill="#a00000" stroke="none" stroke-width="0"/>
<circle cx="906.1" cy="1273.1" r="4.4" fill="#a00000" stroke="none" stroke-width="0"/>
<circle cx="922.4" cy="1173.1" r="4.4" fill="#a00000" stroke="none" stroke-width="0"/>
<circle cx="922.4" cy="1232.9" r="4.4" fill="#a00000" stroke="none" stroke-width="0"/>
<circle cx="922.4" cy="1249.0" r="4.4" fill="#a00000" stroke="none" stroke-width="0"/>
<circle cx="922.4" cy="1268.7" r="4.4" fill="#a00000" stroke="none" stroke-width="0"/>
<circle cx="922.4" cy="1284.7" r="4.4" fill="#a00000" stroke="none" stroke-width="0"/>
<circle cx="938.7" cy="1240.1" r="4.4" fill="#a00000" stroke="none" stroke-width="0"/>
<circle cx="954.9" cy="1182.0" r="4.4" fill="#a00000" stroke="none" stroke-width="0"/>
<circle cx="954.9" cy="1213.3" r="4.4" fill="#a00000" stroke="none" stroke-width="0"/>
<circle cx="954.9" cy="1215.5" r="4.4" fill="#a00000" stroke="none" stroke-width="0"/>
<circle cx="954.9" cy="1244.6" r="4.4" fill="#a00000" stroke="none" stroke-width="0"/>
<circle cx="954.9" cy="1253.5" r="4.4" fill="#a00000" stroke="none" stroke-width="0"/>
<circle cx="954.9" cy="1268.7" r="4.4" fill="#a00000" stroke="none" stroke-width="0"/>
<circle cx="954.9" cy="1277.6" r="4.4" fill="#a00000" stroke="none" stroke-width="0"/>
<circle cx="954.9" cy="1284.3" r="4.4" fill="#a00000" stroke="none" stroke-width="0"/>
<circle cx="971.2" cy="1224.5" r="4.4" fill="#a00000" stroke="none" stroke-width="0"/>
<circle cx="987.4" cy="1057.0" r="4.4" fill="#a00000" stroke="none" stroke-width="0"/>
<circle cx="987.4" cy="1248.6" r="4.4" fill="#a00000" stroke="none" stroke-width="0"/>
<circle cx="987.4" cy="1257.9" r="4.4" fill="#a00000" stroke="none" stroke-width="0"/>
<circle cx="987.4" cy="1280.7" r="4.4" fill="#a00000" stroke="none" stroke-width="0"/>
<circle cx="987.4" cy="1284.7" r="4.4" fill="#a00000" stroke="none" stroke-width="0"/>
<circle cx="1020.0" cy="1233.4" r="4.4" fill="#a00000" stroke="none" stroke-width="0"/>
</svg></body></html>
